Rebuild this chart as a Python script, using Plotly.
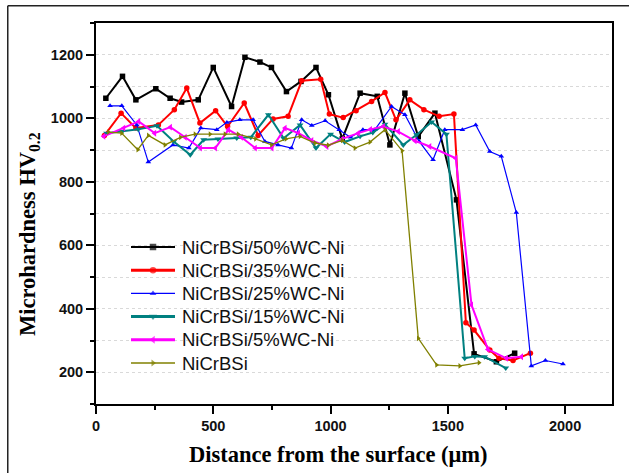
# -*- coding: utf-8 -*-
"""
Microhardness profiles of NiCrBSi/WC-Ni coatings vs. distance from the surface
"""
import plotly.graph_objects as go

# ---- data ----
series_names = ["NiCrBSi/50%WC-Ni", "NiCrBSi/35%WC-Ni", "NiCrBSi/25%WC-Ni",
                "NiCrBSi/15%WC-Ni", "NiCrBSi/5%WC-Ni", "NiCrBSi"]

x_wc50 = [42, 113, 170, 255, 316, 365, 436, 500, 578, 635, 699, 748, 812, 874, 938, 991,
          1050, 1126, 1199, 1253, 1317, 1374, 1445, 1537, 1612, 1707, 1785]
y_wc50 = [1063, 1132, 1058, 1093, 1063, 1051, 1058, 1160, 1037, 1192, 1177, 1160, 1084, 1116,
          1160, 1074, 935, 1079, 1069, 916, 1079, 942, 1016, 743, 258, 233, 260]

x_wc35 = [36, 107, 170, 266, 334, 387, 443, 510, 561, 632, 691, 755, 819, 877, 958, 995, 1054,
          1109, 1175, 1232, 1279, 1338, 1398, 1463, 1526, 1577, 1612, 1679, 1718, 1778, 1852]
y_wc35 = [946, 1016, 969, 979, 1027, 1095, 985, 1024, 974, 1048, 946, 998, 1006, 1118, 1123,
          1013, 1002, 1024, 1053, 1081, 995, 1058, 1027, 1006, 1013, 356, 333, 270, 244, 237, 260]

x_wc25 = [60, 110, 174, 223, 328, 396, 447, 515, 558, 613, 670, 720, 776, 833, 877, 920, 977,
          1037, 1085, 1138, 1189, 1260, 1317, 1378, 1437, 1487, 1562, 1619, 1679, 1728, 1792,
          1856, 1916, 1991]
y_wc25 = [1039, 1039, 979, 862, 916, 906, 969, 964, 987, 995, 995, 927, 916, 906, 995, 977, 992,
          964, 940, 964, 964, 1037, 1011, 927, 869, 964, 964, 979, 895, 880, 703, 220, 237, 226]

x_wc15 = [45, 111, 180, 260, 331, 402, 459, 520, 600, 660, 735, 800, 870, 938, 1000, 1060,
          1126, 1180, 1232, 1310, 1367, 1431, 1494, 1572, 1615, 1657, 1747]
y_wc15 = [953, 958, 965, 976, 927, 885, 932, 935, 938, 940, 1011, 937, 979, 906, 950, 925,
          943, 955, 981, 916, 948, 988, 950, 244, 250, 249, 213]

x_wc5 = [33, 118, 182, 250, 317, 380, 445, 509, 565, 620, 679, 750, 806, 863, 920, 984, 1050,
         1118, 1170, 1225, 1289, 1360, 1423, 1534, 1601, 1671, 1750, 1814]
y_wc5 = [943, 969, 990, 953, 972, 940, 906, 906, 964, 940, 906, 906, 969, 953, 930, 911, 935,
         953, 965, 974, 958, 929, 911, 874, 412, 272, 244, 249]

x_base = [53, 109, 178, 223, 294, 360, 422, 486, 550, 606, 680, 748, 810, 870, 934, 990, 1050,
          1104, 1168, 1232, 1305, 1374, 1452, 1551, 1633]
y_base = [956, 953, 901, 946, 916, 940, 950, 950, 950, 950, 935, 916, 935, 943, 922, 915, 930,
          906, 925, 964, 898, 307, 223, 220, 230]

x_ticks = [0, 500, 1000, 1500, 2000]
y_ticks = [200, 400, 600, 800, 1000, 1200]

# ---- styles ----
colors = ["#000000", "#ff0000", "#0000ff", "#008080", "#ff00ff", "#808000"]
symbols = ["square", "circle", "triangle-up", "triangle-down", "triangle-left", "triangle-right"]
widths = [2, 2, 1.2, 2, 2, 1.3]
leg_widths = [2.2, 3, 1.3, 3, 3, 1.3]
msizes = [5.5, 5.5, 5, 6, 6, 5]

xs = [x_wc50, x_wc35, x_wc25, x_wc15, x_wc5, x_base]
ys = [y_wc50, y_wc35, y_wc25, y_wc15, y_wc5, y_base]

fig = go.Figure()
for i in range(len(series_names)):
    fig.add_trace(go.Scatter(x=xs[i], y=ys[i], name=series_names[i], mode="lines+markers",
                             showlegend=False,
                             line=dict(color=colors[i], width=widths[i]),
                             marker=dict(symbol=symbols[i], size=msizes[i], color=colors[i],
                                         line=dict(width=0))))

# legend drawn by hand on a pixel-like overlay axis (plotly's own legend rows are too tall)
for i in range(len(series_names)):
    row_y = 247 + 23.2 * i
    fig.add_trace(go.Scatter(x=[131, 153, 175], y=[row_y] * 3, xaxis="x2", yaxis="y2",
                             mode="lines+markers", showlegend=False, hoverinfo="skip",
                             line=dict(color=colors[i], width=leg_widths[i]),
                             marker=dict(symbol=symbols[i], size=[0, msizes[i] + 1, 0],
                                         color=colors[i], line=dict(width=0))))
    fig.add_annotation(text=series_names[i], xref="x2", yref="y2", x=180, y=row_y,
                       xanchor="left", yanchor="middle", showarrow=False,
                       font=dict(family="Liberation Sans, Arial", size=18.5, color="#111111"))

tickfont = dict(family="Liberation Sans, Arial", size=14.5, color="#111111", weight="bold")
fig.update_layout(
    xaxis=dict(range=[0, 2200], tickvals=x_ticks, showgrid=False, zeroline=False,
               showline=True, linecolor="black", linewidth=2, mirror=True,
               ticks="outside", ticklen=8, tickwidth=1.5, tickcolor="black",
               minor=dict(dtick=250, tick0=0, ticks="outside", ticklen=4, tickcolor="black"),
               tickfont=tickfont),
    yaxis=dict(range=[100, 1300], tickvals=y_ticks, zeroline=False,
               showgrid=True, gridcolor="#d9d9d9", griddash="dot", gridwidth=1,
               showline=True, linecolor="black", linewidth=2, mirror=True,
               ticks="outside", ticklen=8, tickwidth=1.5, tickcolor="black",
               minor=dict(dtick=100, tick0=0, ticks="outside", ticklen=4, tickcolor="black",
                          showgrid=True, gridcolor="#d9d9d9", griddash="dot"),
               tickfont=tickfont),
    xaxis2=dict(overlaying="x", range=[96, 612], visible=False),
    yaxis2=dict(overlaying="y", range=[404, 23], visible=False),
)

titlefont = dict(family="Liberation Serif, Times New Roman", size=22.5, color="black", weight="bold")
fig.add_annotation(text="Distance from the surface (\u03bcm)", xref="paper", yref="paper",
                   x=0.469, y=-0.133, xanchor="center", yanchor="middle",
                   showarrow=False, font=titlefont)
fig.add_annotation(text="Microhardness HV<sub>0.2</sub>", xref="paper", yref="paper",
                   x=-0.130, y=0.446, xanchor="center", yanchor="middle", textangle=-90,
                   showarrow=False, font=titlefont)

# outer frame (only left and top edges are visible in the picture)
fig.add_shape(type="line", xref="paper", yref="paper", x0=-0.171, x1=1.04, y0=1.045, y1=1.045,
              line=dict(color="#222222", width=1.5))
fig.add_shape(type="line", xref="paper", yref="paper", x0=-0.171, x1=-0.171, y0=1.045, y1=-0.2,
              line=dict(color="#222222", width=1.5))

fig.update_layout(width=629, height=473, margin=dict(l=96, r=17, t=23, b=69),
                  plot_bgcolor="white", paper_bgcolor="white", showlegend=False)

fig.write_html("out.html", config={"displayModeBar": False},
               post_script="document.body.style.margin='0';")
